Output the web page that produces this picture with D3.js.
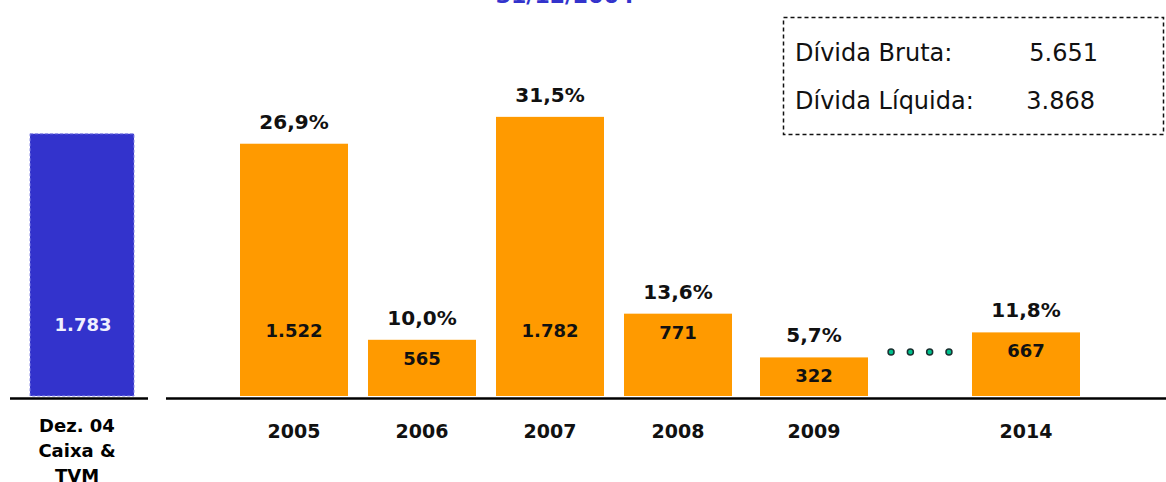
<!DOCTYPE html>
<html>
<head>
<meta charset="utf-8">
<script src="https://cdn.jsdelivr.net/npm/d3@7"></script>
<style>
  html, body { margin: 0; padding: 0; background: #fff; }
  svg { display: block; }
  text { font-family: 'DejaVu Sans', Verdana, sans-serif; }
</style>
</head>
<body>
<svg class="chart"></svg>
<script>
const title = '31/12/2004';

// cash position at start
const cashLabel = ['Dez. 04', 'Caixa &', 'TVM'];
const cashValue = 1783;

// debt amortization schedule
const years = [2005, 2006, 2007, 2008, 2009, 2014];
const amounts = [1522, 565, 1782, 771, 322, 667];
const shares = ['26,9%', '10,0%', '31,5%', '13,6%', '5,7%', '11,8%'];

const debtLabels = ['Dívida Bruta:', 'Dívida Líquida:'];
const debtValues = ['5.651', '3.868'];

const width = 1166;
const height = 482;
const baseline = 396;
const barWidth = 108;

const fmt = v => d3.format(',')(v).replace(/,/g, '.');

const svg = d3.select('.chart')
    .attr('width', width)
    .attr('height', height);

// the source chart is not drawn to scale (small values are compressed),
// so the value scale is piecewise
const y = d3.scaleLinear()
    .domain([0, 300, 700, 1500, 1800])
    .range([baseline, 359, 330, 146, 115]);

// years 2010-2013 are left out, the gap is shown with dots
const x = d3.scaleLinear()
    .domain([2005, 2008, 2009, 2014])
    .range([294, 678, 814, 1026]);

// title, mostly off the top of the page
svg.append('text')
    .attr('x', 565)
    .attr('y', 3)
    .attr('text-anchor', 'middle')
    .attr('font-size', 22)
    .attr('font-weight', 'bold')
    .attr('fill', '#3333cc')
    .text(title);

// --- cash bar
const cashX = 82;
svg.append('rect')
    .attr('x', cashX - 52)
    .attr('y', y(cashValue) + 17)
    .attr('width', 104)
    .attr('height', baseline - y(cashValue) - 17)
    .attr('fill', '#3333cc')
    .attr('stroke', '#8a8ae6')
    .attr('stroke-dasharray', '3,2')
    .attr('stroke-width', 1);

svg.append('text')
    .attr('x', cashX + 1)
    .attr('y', 331)
    .attr('text-anchor', 'middle')
    .attr('font-size', 18)
    .attr('font-weight', 'bold')
    .attr('fill', '#f0f0ff')
    .text(fmt(cashValue));

svg.append('text')
    .attr('text-anchor', 'middle')
    .attr('font-size', 18)
    .attr('font-weight', 'bold')
    .selectAll('tspan')
    .data(cashLabel)
    .join('tspan')
    .attr('x', 77)
    .attr('y', (d, i) => 432 + i * 25)
    .text(d => d);

// --- base lines
svg.append('line')
    .attr('x1', 10).attr('x2', 148)
    .attr('y1', baseline + 2.5).attr('y2', baseline + 2.5)
    .attr('stroke', '#000')
    .attr('stroke-width', 2.5);

svg.append('line')
    .attr('x1', 166).attr('x2', width)
    .attr('y1', baseline + 2.5).attr('y2', baseline + 2.5)
    .attr('stroke', '#000')
    .attr('stroke-width', 2.5);

// --- amortization bars
const data = years.map((year, i) => ({ year, value: amounts[i], share: shares[i] }));

const g = svg.append('g');

g.selectAll('rect')
    .data(data)
    .join('rect')
    .attr('x', d => x(d.year) - barWidth / 2)
    .attr('y', d => y(d.value))
    .attr('width', barWidth)
    .attr('height', d => baseline - y(d.value))
    .attr('fill', '#ff9a00');

g.selectAll('.value')
    .data(data)
    .join('text')
    .attr('class', 'value')
    .attr('x', d => x(d.year))
    .attr('y', d => Math.max(y(d.value) + 18, 330) + 7)
    .attr('text-anchor', 'middle')
    .attr('font-size', 18)
    .attr('font-weight', 'bold')
    .attr('fill', '#111')
    .text(d => fmt(d.value));

g.selectAll('.share')
    .data(data)
    .join('text')
    .attr('class', 'share')
    .attr('x', d => x(d.year))
    .attr('y', d => y(d.value) - 15)
    .attr('text-anchor', 'middle')
    .attr('font-size', 20)
    .attr('font-weight', 'bold')
    .attr('fill', '#111')
    .text(d => d.share);

g.selectAll('.year')
    .data(data)
    .join('text')
    .attr('class', 'year')
    .attr('x', d => x(d.year))
    .attr('y', 438)
    .attr('text-anchor', 'middle')
    .attr('font-size', 19)
    .attr('font-weight', 'bold')
    .attr('fill', '#111')
    .text(d => d.year);

// dots between 2009 and 2014
const gapMid = (x(2009) + barWidth / 2 + x(2014) - barWidth / 2) / 2;
svg.append('g')
    .selectAll('circle')
    .data(d3.range(4))
    .join('circle')
    .attr('cx', i => gapMid + (i - 1.5) * 19.3)
    .attr('cy', 352)
    .attr('r', 3)
    .attr('fill', '#00c08c')
    .attr('stroke', '#1b3030')
    .attr('stroke-width', 1.5);

// --- debt box
const box = svg.append('g');
box.append('rect')
    .attr('x', 783.5)
    .attr('y', 17.5)
    .attr('width', 380)
    .attr('height', 117)
    .attr('fill', 'none')
    .attr('stroke', '#111')
    .attr('stroke-width', 1.5)
    .attr('stroke-dasharray', '4,3');

box.selectAll('.lbl')
    .data(debtLabels)
    .join('text')
    .attr('class', 'lbl')
    .attr('x', 795)
    .attr('y', (d, i) => 61 + i * 48)
    .attr('font-size', 24)
    .attr('fill', '#111')
    .text(d => d);

box.selectAll('.val')
    .data(debtValues)
    .join('text')
    .attr('class', 'val')
    .attr('x', (d, i) => (i === 0 ? 1098 : 1095))
    .attr('y', (d, i) => 61 + i * 48)
    .attr('text-anchor', 'end')
    .attr('font-size', 24)
    .attr('fill', '#111')
    .text(d => d);
</script>
</body>
</html>
